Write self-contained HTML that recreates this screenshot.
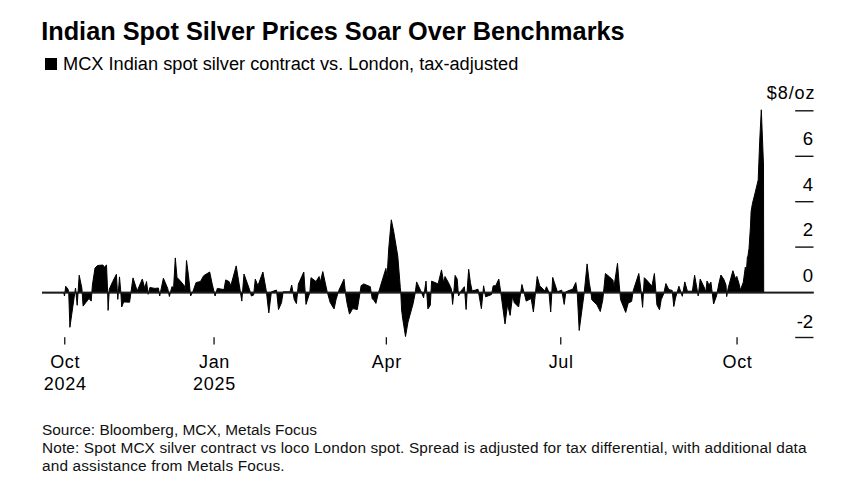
<!DOCTYPE html>
<html><head><meta charset="utf-8"><style>
html,body{margin:0;padding:0;background:#fff;}
body{width:859px;height:485px;position:relative;overflow:hidden;font-family:"Liberation Sans",sans-serif;color:#000;}
.t{position:absolute;white-space:nowrap;line-height:1;}
#title{left:41.2px;top:19px;font-size:25.3px;font-weight:bold;}
#sub{left:63px;top:54.6px;font-size:18.22px;}
#sq{position:absolute;left:45px;top:58px;width:12px;height:12px;background:#000;}
.foot{left:42px;font-size:15.4px;color:#111;}
.ax{font-size:18px;letter-spacing:0.7px;}
.yl{right:45.8px;text-align:right;letter-spacing:0;font-size:18.6px;}
.yd{letter-spacing:0.9px;right:43.6px;font-size:18px;}
svg{position:absolute;left:0;top:0;}
</style></head><body>
<div class="t" id="title">Indian Spot Silver Prices Soar Over Benchmarks</div>
<div id="sq"></div>
<div class="t" id="sub">MCX Indian spot silver contract vs. London, tax-adjusted</div>
<svg width="859" height="485" viewBox="0 0 859 485">
<path d="M42,292.6 L42.0,292.6 L63.7,292.6 L64.5,296.0 L65.7,286.3 L67.9,288.9 L68.7,291.8 L69.9,327.3 L74.7,293.4 L75.5,288.0 L77.2,305.3 L79.2,275.2 L81.9,288.4 L83.1,306.1 L85.7,302.7 L89.0,298.5 L91.2,301.1 L92.4,285.0 L95.0,268.1 L97.5,265.5 L102.9,265.0 L104.3,267.2 L106.5,265.0 L107.6,290.9 L108.1,310.4 L109.3,289.2 L112.7,281.6 L116.4,274.3 L117.8,299.4 L119.5,276.9 L120.8,291.8 L121.7,307.0 L123.7,301.9 L129.6,302.2 L130.8,293.4 L133.0,277.9 L137.2,290.9 L142.3,279.1 L144.8,288.4 L146.5,281.6 L148.2,294.3 L149.9,287.5 L155.0,288.4 L158.4,288.0 L159.7,296.0 L163.4,278.2 L167.7,288.4 L169.4,296.5 L171.9,286.7 L173.6,287.5 L175.3,257.9 L177.0,277.4 L180.9,281.6 L184.3,285.8 L185.1,290.9 L186.5,260.5 L188.5,275.7 L190.6,296.0 L192.8,291.8 L196.1,282.5 L200.4,281.6 L203.7,275.7 L209.7,272.0 L212.2,284.1 L215.1,296.0 L217.3,288.4 L224.0,289.6 L225.7,279.9 L229.1,281.6 L230.8,285.8 L236.2,265.9 L240.1,290.1 L241.8,301.1 L244.0,274.0 L249.4,289.2 L251.4,296.0 L253.6,295.1 L255.3,279.1 L257.9,285.8 L262.9,272.0 L266.3,290.9 L268.8,312.9 L271.4,291.8 L276.5,290.1 L278.5,309.5 L281.5,302.7 L283.2,291.8 L290.0,291.8 L291.7,285.0 L294.2,299.4 L296.4,303.6 L298.4,284.1 L303.8,272.0 L306.0,304.4 L309.8,292.6 L311.0,277.7 L316.0,281.5 L319.1,276.5 L320.3,282.1 L322.8,271.6 L327.1,291.4 L330.2,302.5 L333.9,308.7 L334.1,308.9 L336.0,299.7 L338.8,290.4 L344.0,279.2 L345.6,294.1 L347.1,303.4 L349.5,314.1 L352.7,308.6 L357.3,309.5 L360.1,292.2 L361.1,285.7 L363.8,283.9 L370.3,286.7 L372.2,298.7 L374.1,300.6 L375.9,303.4 L378.5,292.6 L385.9,268.4 L387.1,276.5 L388.7,249.0 L391.3,219.8 L393.7,231.5 L397.8,256.3 L400.3,287.6 L400.8,292.6 L401.6,310.0 L402.6,318.0 L405.5,336.5 L408.0,322.0 L410.5,313.0 L413.0,304.0 L415.3,292.6 L416.6,281.9 L421.4,292.2 L423.6,297.8 L426.0,281.1 L427.9,308.9 L430.3,305.2 L431.6,281.1 L438.1,283.9 L441.5,269.9 L443.7,282.9 L445.0,276.5 L448.4,282.5 L451.4,289.2 L452.6,304.4 L453.8,292.6 L455.1,275.4 L457.2,279.1 L458.5,296.0 L461.1,290.9 L464.4,286.7 L466.1,309.5 L467.8,280.8 L468.7,269.3 L470.4,282.5 L472.1,290.9 L475.4,290.1 L478.0,289.2 L481.4,308.7 L483.6,285.8 L485.6,296.8 L491.5,294.6 L493.2,285.8 L495.7,285.8 L498.8,279.1 L500.8,292.6 L505.0,323.9 L507.6,304.4 L510.1,315.4 L512.6,296.0 L514.3,302.7 L518.6,307.0 L521.9,284.5 L524.5,294.3 L526.2,301.1 L531.2,298.5 L533.4,312.0 L535.5,292.6 L537.2,276.5 L539.7,285.8 L544.8,290.9 L546.5,286.7 L549.0,292.6 L550.7,312.0 L552.7,277.4 L557.4,291.8 L561.7,290.1 L564.2,304.4 L565.9,291.8 L570.1,290.1 L572.7,289.2 L575.8,282.5 L577.2,292.0 L579.2,330.5 L584.3,292.0 L587.1,263.9 L589.3,282.8 L591.0,292.9 L591.8,299.7 L596.9,304.8 L600.3,311.5 L602.8,299.7 L605.4,273.5 L609.6,276.9 L613.0,280.3 L613.8,287.9 L617.5,263.3 L619.2,284.5 L620.6,299.7 L625.7,312.4 L628.2,303.1 L631.6,301.4 L633.3,290.4 L638.8,273.5 L640.9,289.6 L642.6,307.3 L644.3,277.7 L647.6,281.1 L651.9,286.2 L654.4,273.5 L656.1,294.6 L656.9,304.8 L659.5,309.8 L661.2,299.7 L663.7,293.8 L665.9,283.6 L668.8,289.6 L672.2,290.4 L673.8,306.5 L675.5,298.0 L678.9,286.2 L682.3,296.3 L684.8,281.9 L687.4,291.2 L692.4,291.2 L694.6,275.2 L698.2,295.9 L700.2,279.1 L704.5,288.0 L705.8,292.5 L707.0,281.0 L709.0,285.0 L710.9,282.0 L713.6,304.0 L716.5,296.0 L719.0,283.0 L720.9,275.0 L723.8,279.3 L726.0,285.1 L726.7,296.6 L728.2,288.0 L732.9,270.7 L735.4,278.6 L736.8,276.4 L739.0,283.6 L740.4,290.1 L743.3,282.2 L745.3,267.2 L746.2,273.5 L747.4,256.9 L747.7,257.7 L749.0,248.6 L750.5,225.9 L751.1,211.5 L752.5,203.2 L754.6,195.0 L758.2,180.0 L759.7,141.2 L761.3,109.8 L763.5,165.0 L763.7,292.6 L763.7,292.6 Z" fill="#000" stroke="#000" stroke-width="1" stroke-linejoin="round"/>
<rect x="42" y="291.6" width="771.8" height="2" fill="#1c1c1c"/>
<g fill="#151515">
<rect x="795.2" y="110.1" width="18.3" height="1.4"/>
<rect x="795.2" y="155.6" width="18.3" height="1.4"/>
<rect x="795.2" y="201" width="18.3" height="1.4"/>
<rect x="795.2" y="246.4" width="18.3" height="1.4"/>
<rect x="795.2" y="336.8" width="18.3" height="1.4"/>
<rect x="64.1" y="337.2" width="1.3" height="7.3"/>
<rect x="213.4" y="337.2" width="1.3" height="7.3"/>
<rect x="385.7" y="337.2" width="1.3" height="7.3"/>
<rect x="560.1" y="337.2" width="1.3" height="7.3"/>
<rect x="736.4" y="337.2" width="1.3" height="7.3"/>
</g>
</svg>
<div class="t ax yl yd" style="top:83.7px;">$8/oz</div>
<div class="t ax yl" style="top:129.8px;">6</div>
<div class="t ax yl" style="top:175.5px;">4</div>
<div class="t ax yl" style="top:221.2px;">2</div>
<div class="t ax yl" style="top:266.9px;">0</div>
<div class="t ax yl" style="top:312.6px;">-2</div>
<div class="t ax" style="left:15.2px;width:100px;text-align:center;top:352.5px;">Oct</div>
<div class="t ax" style="left:15.2px;width:100px;text-align:center;top:375.3px;">2024</div>
<div class="t ax" style="left:164.5px;width:100px;text-align:center;top:352.5px;">Jan</div>
<div class="t ax" style="left:164.5px;width:100px;text-align:center;top:375.3px;">2025</div>
<div class="t ax" style="left:336.9px;width:100px;text-align:center;top:352.5px;">Apr</div>
<div class="t ax" style="left:511.2px;width:100px;text-align:center;top:352.5px;">Jul</div>
<div class="t ax" style="left:687.5px;width:100px;text-align:center;top:352.5px;">Oct</div>
<div class="t foot" style="top:422.3px;letter-spacing:0.01px">Source: Bloomberg, MCX, Metals Focus</div>
<div class="t foot" style="top:440.3px;letter-spacing:0.13px">Note: Spot MCX silver contract vs loco London spot. Spread is adjusted for tax differential, with additional data</div>
<div class="t foot" style="top:458.3px;letter-spacing:0.15px">and assistance from Metals Focus.</div>
</body></html>
